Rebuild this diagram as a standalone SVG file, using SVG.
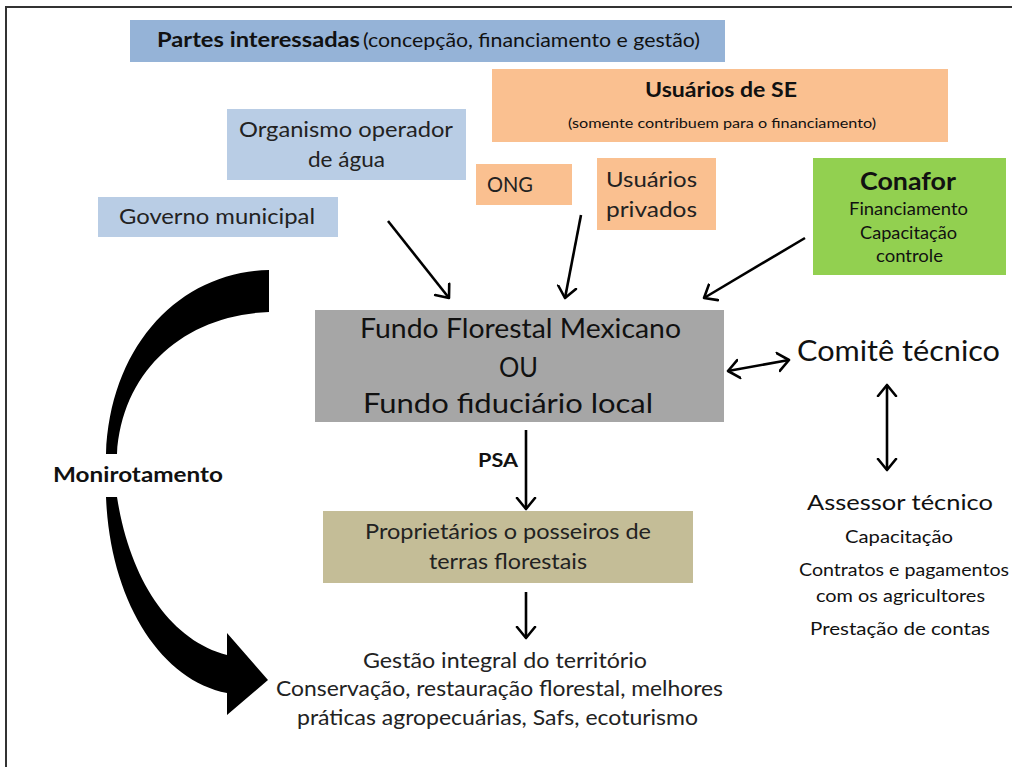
<svg xmlns="http://www.w3.org/2000/svg" width="1012" height="767" viewBox="0 0 1012 767">
<style>
text{font-family:Lato,"Open Sans","Liberation Sans",sans-serif;fill:#111}
.b{font-weight:bold}
.d{fill:#222}
.ln{stroke:#000;stroke-width:2.6;fill:none}
</style>
<defs>
<marker id="ah" markerUnits="userSpaceOnUse" markerWidth="14" markerHeight="22" viewBox="0 0 14 22" refX="12" refY="11" orient="auto-start-reverse">
<path d="M1,2 L12,11 L1,20" fill="none" stroke="#000" stroke-width="2.6" stroke-linecap="round" stroke-linejoin="round"/>
</marker>
</defs>
<rect width="1012" height="767" fill="#fff"/>
<path d="M6,767 V7 H1012" fill="none" stroke="#333" stroke-width="2"/>

<g id="partes">
<rect x="130" y="20" width="595" height="42" fill="#95b3d7"/>
<text x="157" y="47" class="b" font-size="20" textLength="203" lengthAdjust="spacingAndGlyphs">Partes interessadas</text>
<text x="363" y="47" font-size="19" textLength="337" lengthAdjust="spacingAndGlyphs">(concepção, financiamento e gestão)</text>
</g>
<g id="usuarios-se">
<rect x="492" y="69" width="456" height="73" fill="#fac090"/>
<text x="645" y="97" class="b" font-size="20" textLength="152" lengthAdjust="spacingAndGlyphs">Usuários de SE</text>
<text x="568" y="128" font-size="14" textLength="308" lengthAdjust="spacingAndGlyphs">(somente contribuem para o financiamento)</text>
</g>
<g id="organismo">
<rect x="227" y="109" width="239" height="71" fill="#b9cde5"/>
<text x="239" y="137" class="d" font-size="22" textLength="214" lengthAdjust="spacingAndGlyphs">Organismo operador</text>
<text x="308" y="167" class="d" font-size="22" textLength="77" lengthAdjust="spacingAndGlyphs">de água</text>
</g>
<g id="ong">
<rect x="476" y="164" width="96" height="41" fill="#fac090"/>
<text x="487" y="192" class="d" font-size="21" textLength="46" lengthAdjust="spacingAndGlyphs">ONG</text>
</g>
<g id="privados">
<rect x="597" y="158" width="119" height="72" fill="#fac090"/>
<text x="606" y="187" class="d" font-size="21" textLength="91" lengthAdjust="spacingAndGlyphs">Usuários</text>
<text x="606" y="217" class="d" font-size="21" textLength="91" lengthAdjust="spacingAndGlyphs">privados</text>
</g>
<g id="governo">
<rect x="98" y="197" width="240" height="40" fill="#b9cde5"/>
<text x="119" y="224" class="d" font-size="21" textLength="196" lengthAdjust="spacingAndGlyphs">Governo municipal</text>
</g>
<g id="conafor">
<rect x="813" y="158" width="193" height="117" fill="#92d050"/>
<text x="860" y="190" class="b" font-size="25" textLength="96" lengthAdjust="spacingAndGlyphs">Conafor</text>
<text x="849" y="215" font-size="17" textLength="119" lengthAdjust="spacingAndGlyphs">Financiamento</text>
<text x="860" y="239" font-size="17" textLength="97" lengthAdjust="spacingAndGlyphs">Capacitação</text>
<text x="876" y="262" font-size="17" textLength="67" lengthAdjust="spacingAndGlyphs">controle</text>
</g>
<g id="fundo">
<rect x="315" y="310" width="409" height="112" fill="#a6a6a6"/>
<text x="360" y="338" font-size="27" textLength="321" lengthAdjust="spacingAndGlyphs">Fundo Florestal Mexicano</text>
<text x="499" y="377" font-size="27" textLength="39" lengthAdjust="spacingAndGlyphs">OU</text>
<text x="363" y="413" font-size="27" textLength="290" lengthAdjust="spacingAndGlyphs">Fundo fiduciário local</text>
</g>
<g id="comite">
<text x="797" y="361" font-size="28" textLength="203" lengthAdjust="spacingAndGlyphs">Comitê técnico</text>
</g>
<g id="assessor">
<text x="807" y="510" font-size="22" textLength="186" lengthAdjust="spacingAndGlyphs">Assessor técnico</text>
<text x="845" y="543" font-size="18" textLength="108" lengthAdjust="spacingAndGlyphs">Capacitação</text>
<text x="799" y="576" font-size="18" textLength="210" lengthAdjust="spacingAndGlyphs">Contratos e pagamentos</text>
<text x="816" y="602" font-size="18" textLength="169" lengthAdjust="spacingAndGlyphs">com os agricultores</text>
<text x="810" y="635" font-size="18" textLength="180" lengthAdjust="spacingAndGlyphs">Prestação de contas</text>
</g>
<g id="proprietarios">
<rect x="323" y="511" width="370" height="72" fill="#c4bd97"/>
<text x="365" y="539" class="d" font-size="22" textLength="286" lengthAdjust="spacingAndGlyphs">Proprietários o posseiros de</text>
<text x="429" y="569" class="d" font-size="22" textLength="158" lengthAdjust="spacingAndGlyphs">terras florestais</text>
</g>
<g id="gestao">
<text x="363" y="668" class="d" font-size="22" textLength="284" lengthAdjust="spacingAndGlyphs">Gestão integral do território</text>
<text x="276" y="696" class="d" font-size="22" textLength="447" lengthAdjust="spacingAndGlyphs">Conservação, restauração florestal, melhores</text>
<text x="297" y="725" class="d" font-size="22" textLength="401" lengthAdjust="spacingAndGlyphs">práticas agropecuárias, Safs, ecoturismo</text>
</g>
<g id="monitoramento">
<path d="M269,270 C180,272 110,345 106,454 L117,454 C122,370 185,315 269,312 Z" fill="#000"/>
<path d="M106,497 C110,600 160,680 227,693 L227,715 L268,680 L227,633 L227,655 C170,640 130,580 117,497 Z" fill="#000"/>
<text x="53" y="482" class="b" font-size="20" textLength="170" lengthAdjust="spacingAndGlyphs">Monirotamento</text>
</g>
<g id="connectors">
<line class="ln" x1="388" y1="221" x2="449" y2="298" marker-end="url(#ah)"/>
<line class="ln" x1="581" y1="215" x2="565" y2="298" marker-end="url(#ah)"/>
<line class="ln" x1="805" y1="238" x2="704" y2="298" marker-end="url(#ah)"/>
<line class="ln" x1="728" y1="371" x2="789" y2="360" marker-start="url(#ah)" marker-end="url(#ah)"/>
<line class="ln" x1="887" y1="385" x2="887" y2="470" marker-start="url(#ah)" marker-end="url(#ah)"/>
<line class="ln" x1="526" y1="430" x2="526" y2="509" marker-end="url(#ah)"/>
<text x="478" y="467" class="b" font-size="19" textLength="40" lengthAdjust="spacingAndGlyphs">PSA</text>
<line class="ln" x1="526" y1="592" x2="526" y2="638" marker-end="url(#ah)"/>
</g>
</svg>
